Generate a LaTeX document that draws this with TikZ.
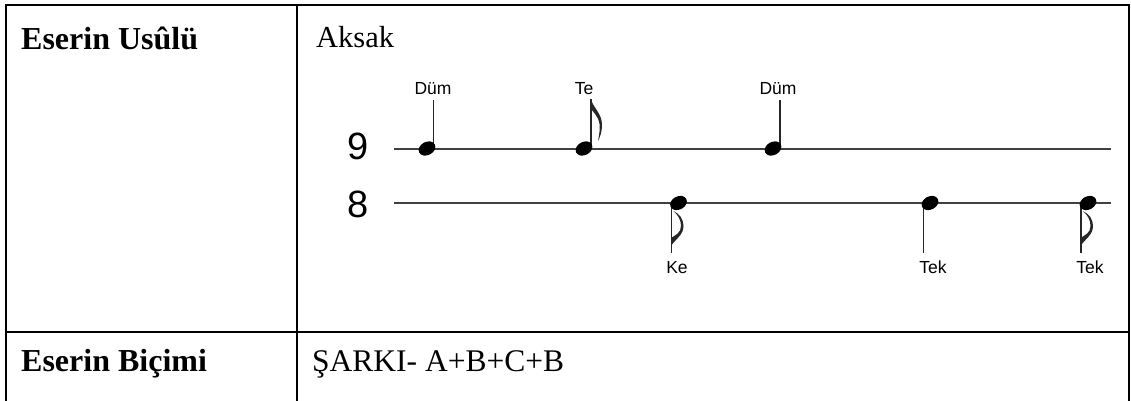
\documentclass[tikz,border=0pt]{standalone}
\usepackage{fontspec}
\setmainfont{Liberation Serif}
\newfontfamily\notefont{Liberation Sans}
\begin{document}
\begin{tikzpicture}[x=1pt,y=-1pt,
  rule/.style={line width=2pt, draw=black},
  staff/.style={line width=2pt, draw=black!75},
  stemline/.style={line width=1.5pt, draw=black!85},
  cell/.style={anchor=base west, inner sep=0pt, font=\fontsize{31.5}{31.5}\selectfont},
  hcell/.style={cell, font=\fontsize{32}{32}\selectfont\bfseries},
  syl/.style={anchor=base, inner sep=0pt, font=\notefont\fontsize{17.5}{17.5}\selectfont},
  meter/.style={anchor=base, inner sep=0pt, font=\notefont\fontsize{38}{38}\selectfont},
  nh/.pic={\fill[black, rotate=28] (0,0) ellipse (8.8 and 6.6);},
  upflag/.pic={\fill[black!85] (0,0) .. controls (2,9) and (11,14) .. (11,26) .. controls (11,33) and (9,38) .. (7,42) .. controls (8,36) and (9.3,31) .. (8.5,25) .. controls (7.5,17) and (1,12) .. (-0.5,9) -- cycle;},
  downflag/.pic={\fill[black!85] (-0.5,0) .. controls (4,-7) and (12,-11) .. (12,-20) .. controls (12,-27) and (8,-32) .. (2,-35) .. controls (6.5,-31) and (9.5,-26) .. (9.5,-20) .. controls (9.5,-13) and (4,-11) .. (-0.5,-8) -- cycle;}
]
\useasboundingbox (0,0) rectangle (1131,401);
% table
\draw[rule] (6,402) -- (6,5) -- (1129,5) -- (1129,402);
\draw[rule] (297,5) -- (297,402);
\draw[rule] (6,332) -- (1129,332);
\node[hcell] (h1) at (21,50) {Eserin Usûlü};
\node[cell, font=\fontsize{30.5}{30.5}\selectfont] (v1) at (316,48) {Aksak};
\node[hcell] (h2) at (21,371) {Eserin Biçimi};
\node[cell] (v2) at (312,371) {ŞARKI- A+B+C+B};
% meter
\node[meter] (nine) at (358,159) {9};
\node[meter] (eight) at (358,217) {8};
\coordinate (s1a) at (394,149);
\coordinate (s1b) at (1111,149);
\coordinate (s2a) at (394,203);
\coordinate (s2b) at (1111,203);
\draw[staff] (s1a) -- (s1b);
\draw[staff] (s2a) -- (s2b);
% upper notes
\draw[stemline] (433.5,147) -- (433.5,100);
\pic at (427,148.5) {nh};
\draw[stemline] (591,147) -- (591,99);
\pic at (591,99) {upflag};
\pic at (584,148.5) {nh};
\draw[stemline] (780,147) -- (780,100);
\pic at (773,148.5) {nh};
\node[syl] (dum1) at (433,95) {Düm};
\node[syl] (te) at (584,95) {Te};
\node[syl] (dum2) at (778,95) {Düm};
% lower notes
\draw[stemline] (671.5,205) -- (671.5,253);
\pic at (671.5,246) {downflag};
\pic at (678.5,203) {nh};
\draw[stemline] (923.5,205) -- (923.5,253);
\pic at (930,203) {nh};
\draw[stemline] (1081,205) -- (1081,253);
\pic at (1081,246) {downflag};
\pic at (1088,203) {nh};
\node[syl] (ke) at (677,273) {Ke};
\node[syl] (tek1) at (933,273) {Tek};
\node[syl] (tek2) at (1090,273) {Tek};
\end{tikzpicture}
\end{document}
